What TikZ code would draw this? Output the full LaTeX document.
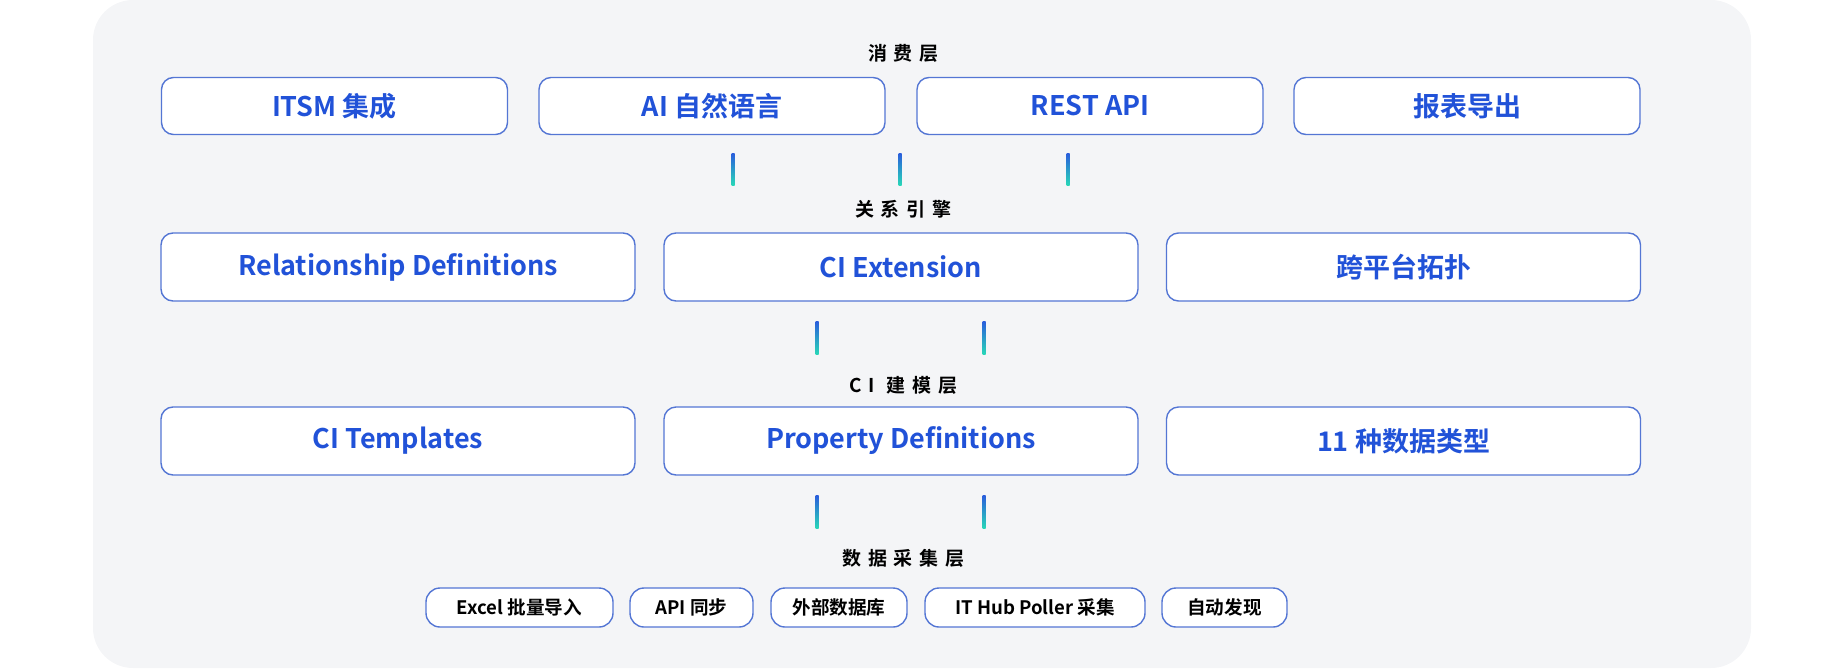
\documentclass[tikz,border=0pt]{standalone}
\usepackage{fontspec}
\setmainfont{Noto Sans CJK SC}[BoldFont={Noto Sans CJK SC Bold}]
\newfontfamily\layerfont{Noto Sans CJK SC Bold}[LetterSpace=36]
\definecolor{panelgray}{RGB}{244,245,247}
\definecolor{boxline}{RGB}{84,118,212}
\definecolor{itemblue}{RGB}{33,82,216}
\definecolor{ticktop}{RGB}{42,92,220}
\definecolor{tickbot}{RGB}{40,214,184}

\begin{document}
\begin{tikzpicture}[x=0.5pt,y=-0.5pt,
  layer/.style={inner sep=0pt, xshift=1.7pt, font=\layerfont\fontsize{9.5}{11}\selectfont},
  bigbox/.style={draw=boxline, line width=0.7pt, fill=white, rounded corners=6pt,
    inner sep=0pt, text=itemblue, font=\bfseries\fontsize{13.5}{16}\selectfont},
  rowa/.style={bigbox, minimum width=173pt, minimum height=28.5pt},
  rowb/.style={bigbox, minimum width=237pt, minimum height=34pt},
  srcbox/.style={draw=boxline, line width=0.7pt, fill=white, rounded corners=7pt,
    inner sep=0pt, minimum height=19.5pt, font=\bfseries\fontsize{9.3}{11}\selectfont}]
\useasboundingbox (0,0) rectangle (1845,669);
\fill [panelgray, rounded corners=20pt] (93,0) rectangle (1751,668);

% consumer layer
\node [layer] (consume) at (900,53) {消费层};
\node [rowa] (itsm) at (334.5,106) {ITSM 集成};
\node [rowa] (nlq) at (712,106) {AI 自然语言};
\node [rowa] (rest) at (1090,106) {REST API};
\node [rowa] (report) at (1467,106) {报表导出};

\coordinate (t1a) at (733,153);  \coordinate (t1b) at (733,185);
\coordinate (t2a) at (900,153);  \coordinate (t2b) at (900,185);
\coordinate (t3a) at (1068,153); \coordinate (t3b) at (1068,185);
\shade [top color=ticktop, bottom color=tickbot] ([xshift=-0.75pt]t1a) rectangle ([xshift=0.75pt]t1b);
\shade [top color=ticktop, bottom color=tickbot] ([xshift=-0.75pt]t2a) rectangle ([xshift=0.75pt]t2b);
\shade [top color=ticktop, bottom color=tickbot] ([xshift=-0.75pt]t3a) rectangle ([xshift=0.75pt]t3b);

% relation engine
\node [layer] (engine) at (900,209) {关系引擎};
\node [rowb] (reldef) at (398,267) {Relationship Definitions};
\node [rowb] (ciext) at (901,267) {CI Extension};
\node [rowb] (topo) at (1403.5,267) {跨平台拓扑};

\coordinate (t4a) at (817,321); \coordinate (t4b) at (817,354);
\coordinate (t5a) at (984,321); \coordinate (t5b) at (984,354);
\shade [top color=ticktop, bottom color=tickbot] ([xshift=-0.75pt]t4a) rectangle ([xshift=0.75pt]t4b);
\shade [top color=ticktop, bottom color=tickbot] ([xshift=-0.75pt]t5a) rectangle ([xshift=0.75pt]t5b);

% CI modelling
\node [layer] (model) at (900,385) {CI 建模层};
\node [rowb] (tmpl) at (398,441) {CI Templates};
\node [rowb] (propdef) at (901,441) {Property Definitions};
\node [rowb] (types) at (1403.5,441) {11 种数据类型};

\coordinate (t6a) at (817,495); \coordinate (t6b) at (817,528);
\coordinate (t7a) at (984,495); \coordinate (t7b) at (984,528);
\shade [top color=ticktop, bottom color=tickbot] ([xshift=-0.75pt]t6a) rectangle ([xshift=0.75pt]t6b);
\shade [top color=ticktop, bottom color=tickbot] ([xshift=-0.75pt]t7a) rectangle ([xshift=0.75pt]t7b);

% collection
\node [layer] (collect) at (900,558) {数据采集层};
\node [srcbox, minimum width=93.5pt] (excel) at (519.5,607.5) {Excel 批量导入};
\node [srcbox, minimum width=61.5pt] (apisync) at (691.5,607.5) {API 同步};
\node [srcbox, minimum width=68pt] (extdb) at (839,607.5) {外部数据库};
\node [srcbox, minimum width=110pt] (poller) at (1035,607.5) {IT Hub Poller 采集};
\node [srcbox, minimum width=62.5pt] (disc) at (1224.5,607.5) {自动发现};
\end{tikzpicture}
\end{document}
